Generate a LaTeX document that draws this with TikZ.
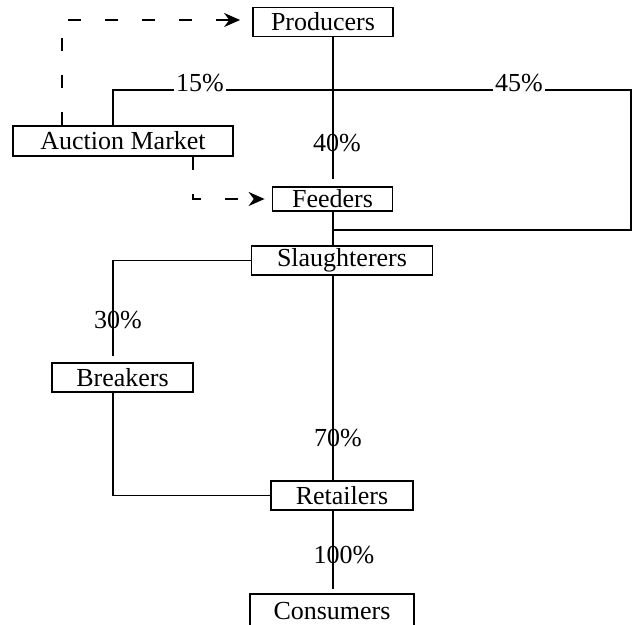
\documentclass[tikz,border=0pt]{standalone}
\usepackage{fontspec}
\setmainfont{Liberation Serif}
\usetikzlibrary{arrows.meta}
\begin{document}
\begin{tikzpicture}[x=0.5pt,y=-0.5pt]
\tikzstyle{box} = [draw,line width=0.9pt,minimum height=14.5pt,inner sep=1pt,font=\fontsize{13}{15}\selectfont];
\tikzstyle{pct} = [inner sep=1pt,font=\fontsize{13}{15}\selectfont];
\tikzstyle{flow} = [line width=0.9pt];
\tikzstyle{sale} = [line width=0.8pt,dash pattern=on 6.5pt off 12pt,-{Stealth[length=8pt,width=7pt]}];
\useasboundingbox (0,0) rectangle (633,625);
\node [box,minimum width=70pt] (prod) at (323,22) {Producers};
\node [box,minimum width=110pt,minimum height=15pt] (auc) at (123,141) {Auction Market};
\node [box,minimum width=60pt,minimum height=12pt] (feed) at (332.5,199) {Feeders};
\node [box,minimum width=90.5pt] (slau) at (342,260.5) {Slaughterers};
\node [box,minimum width=70.5pt] (brk) at (122.5,377.5) {Breakers};
\node [box,minimum width=71pt] (ret) at (342,495.5) {Retailers};
\node [box,minimum width=82pt,minimum height=17pt] (cons) at (332,611) {Consumers};

\coordinate (tl) at (113,90);
\coordinate (tr) at (631,90);
\coordinate (sj) at (333,230);
\coordinate (lx) at (113,0);
\coordinate (dv) at (62,20);
\coordinate (dd) at (193,199);

\node [pct] (p15) at (200,83) {15\%};
\node [pct] (p45) at (519,83) {45\%};
\node [pct] (p40) at (337,143) {40\%};
\node [pct] (p30) at (118,320) {30\%};
\node [pct] (p70) at (338,438) {70\%};
\node [pct] (p100) at (344,555) {100\%};

\draw [flow,shorten >=3.5pt] (prod.south -| sj) -- (feed.north -| sj);
\draw [flow] (auc.north -| tl) -- (tl) -- (p15.west |- tl);
\draw [flow] (p15.east |- tl) -- (p45.west |- tl);
\draw [flow] (p45.east |- tl) -- (tr) -- (tr |- sj) -- (sj);
\draw [flow] (feed.south -| sj) -- (slau.north -| sj);
\draw [flow,shorten >=3pt] (slau.west) -| (lx |- brk.north);
\draw [flow] (lx |- brk.south) |- (ret.west);
\draw [flow] (slau.south -| sj) -- (ret.north -| sj);
\draw [flow,shorten >=2pt] (ret.south -| sj) -- (cons.north -| sj);

\draw [sale,shorten >=6pt] (auc.north -| dv) -- (dv) -- (prod.west |- dv);
\draw [sale,shorten >=3.5pt] (auc.south -| dd) -- (dd) -- (feed.west |- dd);
\end{tikzpicture}
\end{document}
